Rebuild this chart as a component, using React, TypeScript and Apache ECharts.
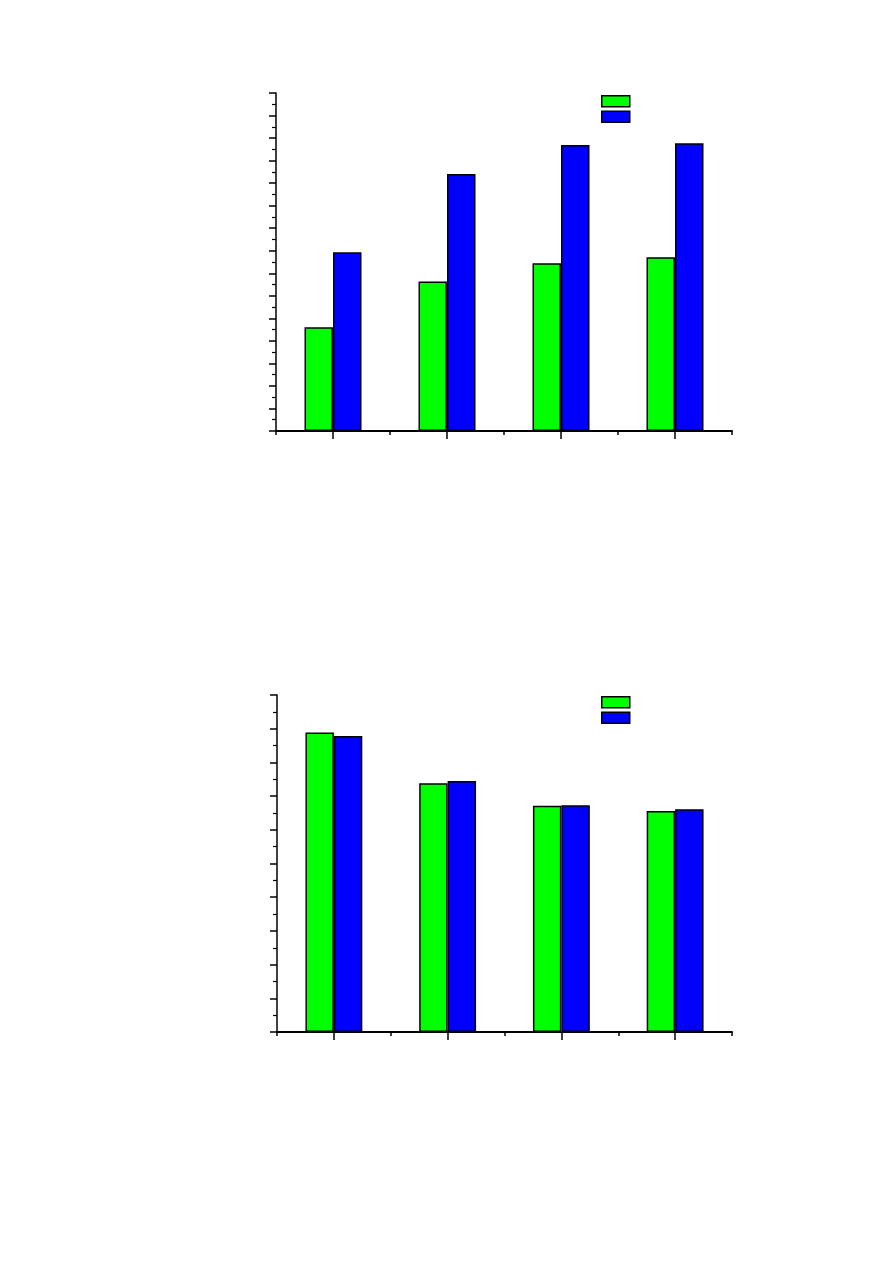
import React, { useEffect, useRef } from "react";
import * as echarts from "echarts";

const categories = ["1", "2", "3", "4"];
const topGreen = [4.6, 6.64, 7.44, 7.71];
const topBlue = [7.93, 11.41, 12.69, 12.77];
const bottomGreen = [8.89, 7.38, 6.71, 6.56];
const bottomBlue = [8.78, 7.45, 6.73, 6.61];
const topMax = 15;
const bottomMax = 10;

const GREEN = "#00ff00";
const BLUE = "#0000ff";

export default function App() {
  const ref = useRef<HTMLDivElement>(null);
  useEffect(() => {
    if (!ref.current) return;
    const chart = echarts.init(ref.current, null, { renderer: "svg" });
    const lineStyle = { color: "#000", width: 1.5 };
    const yAxis = (gridIndex: number, max: number) => ({
      type: "value",
      gridIndex,
      min: 0,
      max,
      interval: 1,
      axisLine: { show: true, lineStyle },
      axisTick: { show: true, inside: false, length: 7, lineStyle },
      minorTick: { show: true, splitNumber: 2, length: 4, lineStyle: { color: "#000", width: 1.2 } },
      axisLabel: { show: false },
      splitLine: { show: false },
      minorSplitLine: { show: false },
    });
    const catAxis = (gridIndex: number) => ({
      type: "category",
      gridIndex,
      data: categories,
      position: "bottom",
      axisLine: { show: true, lineStyle: { color: "#000", width: 2 } },
      axisTick: { show: true, alignWithLabel: true, length: 8, lineStyle },
      axisLabel: { show: false },
      splitLine: { show: false },
    });
    const boundAxis = (gridIndex: number) => ({
      type: "value",
      gridIndex,
      min: 0,
      max: 4,
      interval: 1,
      position: "bottom",
      axisLine: { show: false },
      axisTick: { show: true, length: 4, lineStyle },
      axisLabel: { show: false },
      splitLine: { show: false },
    });
    const barStyle = (color: string) => ({ color, borderColor: "#000", borderWidth: 1.5 });
    const legend = (top: number, names: string[]) => ({
      left: 601,
      top,
      padding: 0,
      orient: "vertical",
      icon: "rect",
      itemWidth: 28,
      itemHeight: 11,
      itemGap: 3,
      selectedMode: false,
      formatter: () => "",
      textStyle: { fontSize: 8, lineHeight: 11 },
      data: names,
      itemStyle: { borderColor: "#000", borderWidth: 1.5 },
    });
    chart.setOption({
      animation: false,
      backgroundColor: "#fff",
      grid: [
        { left: 276, top: 93, width: 456, height: 338 },
        { left: 277, top: 695, width: 455, height: 337 },
      ],
      legend: [legend(95, ["Top A", "Top B"]), legend(696, ["Bottom A", "Bottom B"])],
      xAxis: [catAxis(0), boundAxis(0), catAxis(1), boundAxis(1)],
      yAxis: [yAxis(0, topMax), yAxis(1, bottomMax)],
      series: [
        { name: "Top A", type: "bar", xAxisIndex: 0, yAxisIndex: 0, data: topGreen, barWidth: "25%", barGap: "0%", itemStyle: barStyle(GREEN) },
        { name: "Top B", type: "bar", xAxisIndex: 0, yAxisIndex: 0, data: topBlue, barWidth: "25%", barGap: "0%", itemStyle: barStyle(BLUE) },
        { name: "Bottom A", type: "bar", xAxisIndex: 2, yAxisIndex: 1, data: bottomGreen, barWidth: "25%", barGap: "0%", itemStyle: barStyle(GREEN) },
        { name: "Bottom B", type: "bar", xAxisIndex: 2, yAxisIndex: 1, data: bottomBlue, barWidth: "25%", barGap: "0%", itemStyle: barStyle(BLUE) },
      ],
    });
    return () => chart.dispose();
  }, []);
  return (
    <div
      ref={ref}
      style={{ position: "absolute", left: 0, top: 0, width: 893, height: 1263, background: "#fff" }}
    />
  );
}
